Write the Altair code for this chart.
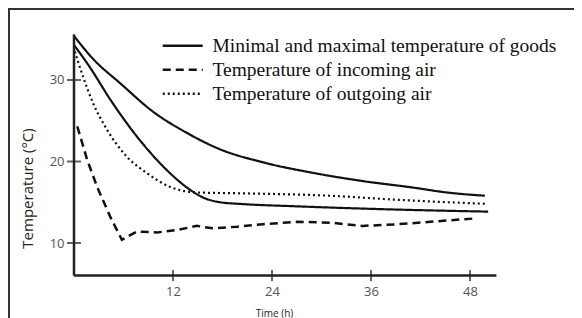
import altair as alt
import pandas as pd

series_names = [
    "Minimal and maximal temperature of goods",
    "Temperature of incoming air",
    "Temperature of outgoing air",
]

# maximal temperature of goods
max_h = [0, 2.3, 5.6, 9.6, 13.7, 17.7, 22.9, 29.0, 35.0, 41.1, 45.2, 49.8]
max_t = [35.4, 32.6, 29.6, 26.1, 23.5, 21.5, 19.9, 18.6, 17.6, 16.8, 16.2, 15.8]
# minimal temperature of goods
min_h = [0, 1.9, 4.4, 7.6, 10.8, 13.7, 15.6, 17.7, 20.1, 27.0, 39.2, 50.2]
min_t = [34.3, 31.6, 27.6, 23.1, 19.4, 16.8, 15.6, 15.0, 14.8, 14.5, 14.1, 13.85]
# outgoing air
out_h = [0.1, 1.1, 2.3, 4.0, 6.4, 8.8, 11.6, 14.9, 20.1, 31.0, 39.2, 50.1]
out_t = [33.5, 30.4, 27.2, 23.9, 20.6, 18.6, 16.9, 16.2, 16.1, 15.8, 15.3, 14.8]
# incoming air
in_h = [0.4, 1.6, 2.8, 4.4, 5.8, 7.6, 10.1, 12.5, 14.9, 16.8, 19.8, 22.9, 27.0, 31.0, 35.0, 39.2, 43.2, 48.4]
in_t = [24.3, 20.2, 16.9, 13.2, 10.4, 11.4, 11.3, 11.6, 12.1, 11.8, 12.0, 12.3, 12.6, 12.5, 12.1, 12.3, 12.6, 13.0]

x_ticks = [12, 24, 36, 48]
y_ticks = [10, 20, 30]
x_axis_range = [0, 51.2]
y_axis_range = [6, 35.6]

rows = []
for h, t in zip(max_h, max_t):
    rows.append({"hours": h, "temp": t, "series": series_names[0], "curve": "max"})
for h, t in zip(min_h, min_t):
    rows.append({"hours": h, "temp": t, "series": series_names[0], "curve": "min"})
for h, t in zip(in_h, in_t):
    rows.append({"hours": h, "temp": t, "series": series_names[1], "curve": "in"})
for h, t in zip(out_h, out_t):
    rows.append({"hours": h, "temp": t, "series": series_names[2], "curve": "out"})
df = pd.DataFrame(rows)

W, H = 566, 310
xscale = alt.Scale(domain=[-8.0, 60.606], nice=False, zero=False)
yscale = alt.Scale(domain=[0.798, 38.834], nice=False, zero=False)
dash_scale = alt.Scale(domain=series_names, range=[[1, 0], [8, 5], [2, 3]])

x_axis = alt.Axis(
    values=x_ticks, orient="bottom", offset=-42, domain=False, ticks=False, grid=False,
    labelPadding=9, labelFont="Open Sans", labelFontSize=13, labelColor="#555",
    title="Time (h)", titleX=266, titleY=37, titleBaseline="middle", titleAlign="center",
    titleFont="Open Sans", titleFontSize=10, titleFontWeight="normal", titleColor="#222",
)
y_axis = alt.Axis(
    values=y_ticks, orient="left", offset=-66, domain=False, ticks=False, grid=False,
    labelPadding=10, labelFont="Open Sans", labelFontSize=13, labelColor="#555",
    title="Temperature (°C)", titleX=-47, titleY=180, titleBaseline="middle", titleAlign="center",
    titleAngle=270, titleFont="Open Sans", titleFontSize=15, titleFontWeight="normal", titleColor="#222",
)

legend = alt.Legend(
    orient="none", legendX=150, legendY=28, title=None, padding=0,
    symbolType="M-1,0H7", symbolSize=100, symbolStrokeWidth=2.5, symbolStrokeColor="#111",
    symbolFillColor="transparent",
    labelFont="Liberation Serif", labelFontSize=19.5, labelColor="#111", labelOffset=35,
    labelLimit=600, rowPadding=3,
)

base = alt.Chart(df).encode(
    x=alt.X("hours:Q", scale=xscale, axis=x_axis),
    y=alt.Y("temp:Q", scale=yscale, axis=y_axis),
    detail="curve:N",
    strokeDash=alt.StrokeDash("series:N", scale=dash_scale, legend=legend),
)
smooth = base.transform_filter(alt.datum.series != series_names[1]).mark_line(
    interpolate="monotone", color="#111", strokeWidth=2.2, strokeCap="butt"
)
jagged = base.transform_filter(alt.datum.series == series_names[1]).mark_line(
    color="#111", strokeWidth=2.5, strokeCap="butt"
)

yline = alt.Chart(pd.DataFrame({"hours": [0], "temp": [y_axis_range[0]], "temp2": [y_axis_range[1]]})).mark_rule(
    color="#222", strokeWidth=2.5
).encode(x=alt.X("hours:Q", scale=xscale), y=alt.Y("temp:Q", scale=yscale), y2="temp2:Q")
xline = alt.Chart(pd.DataFrame({"hours": [x_axis_range[0]], "hours2": [x_axis_range[1]], "temp": [y_axis_range[0]]})).mark_rule(
    color="#222", strokeWidth=2.5
).encode(x=alt.X("hours:Q", scale=xscale), x2="hours2:Q", y=alt.Y("temp:Q", scale=yscale))

xt = alt.Chart(pd.DataFrame({"hours": x_ticks, "temp": [y_axis_range[0]] * len(x_ticks)})).mark_tick(
    orient="vertical", size=11, thickness=2, color="#222"
).encode(x=alt.X("hours:Q", scale=xscale), y=alt.Y("temp:Q", scale=yscale))
yt = alt.Chart(pd.DataFrame({"hours": [0] * len(y_ticks), "temp": y_ticks})).mark_tick(
    orient="horizontal", size=14, thickness=2, color="#222"
).encode(x=alt.X("hours:Q", scale=xscale), y=alt.Y("temp:Q", scale=yscale))

dummy = pd.DataFrame({"a": [0]})
frame_top = alt.Chart(dummy).mark_rule(color="#333", strokeWidth=2).encode(
    x=alt.value(0), x2=alt.value(W), y=alt.value(1)
)
frame_left = alt.Chart(dummy).mark_rule(color="#333", strokeWidth=2).encode(
    x=alt.value(1), y=alt.value(0), y2=alt.value(H)
)

chart = alt.layer(smooth, jagged, yline, xline, xt, yt, frame_top, frame_left).properties(
    width=W, height=H, padding=0, autosize=alt.AutoSizeParams(type="none"),
    background="white",
).configure_view(strokeWidth=0)

chart.save("out.html", embed_options={"renderer": "svg", "actions": False})
